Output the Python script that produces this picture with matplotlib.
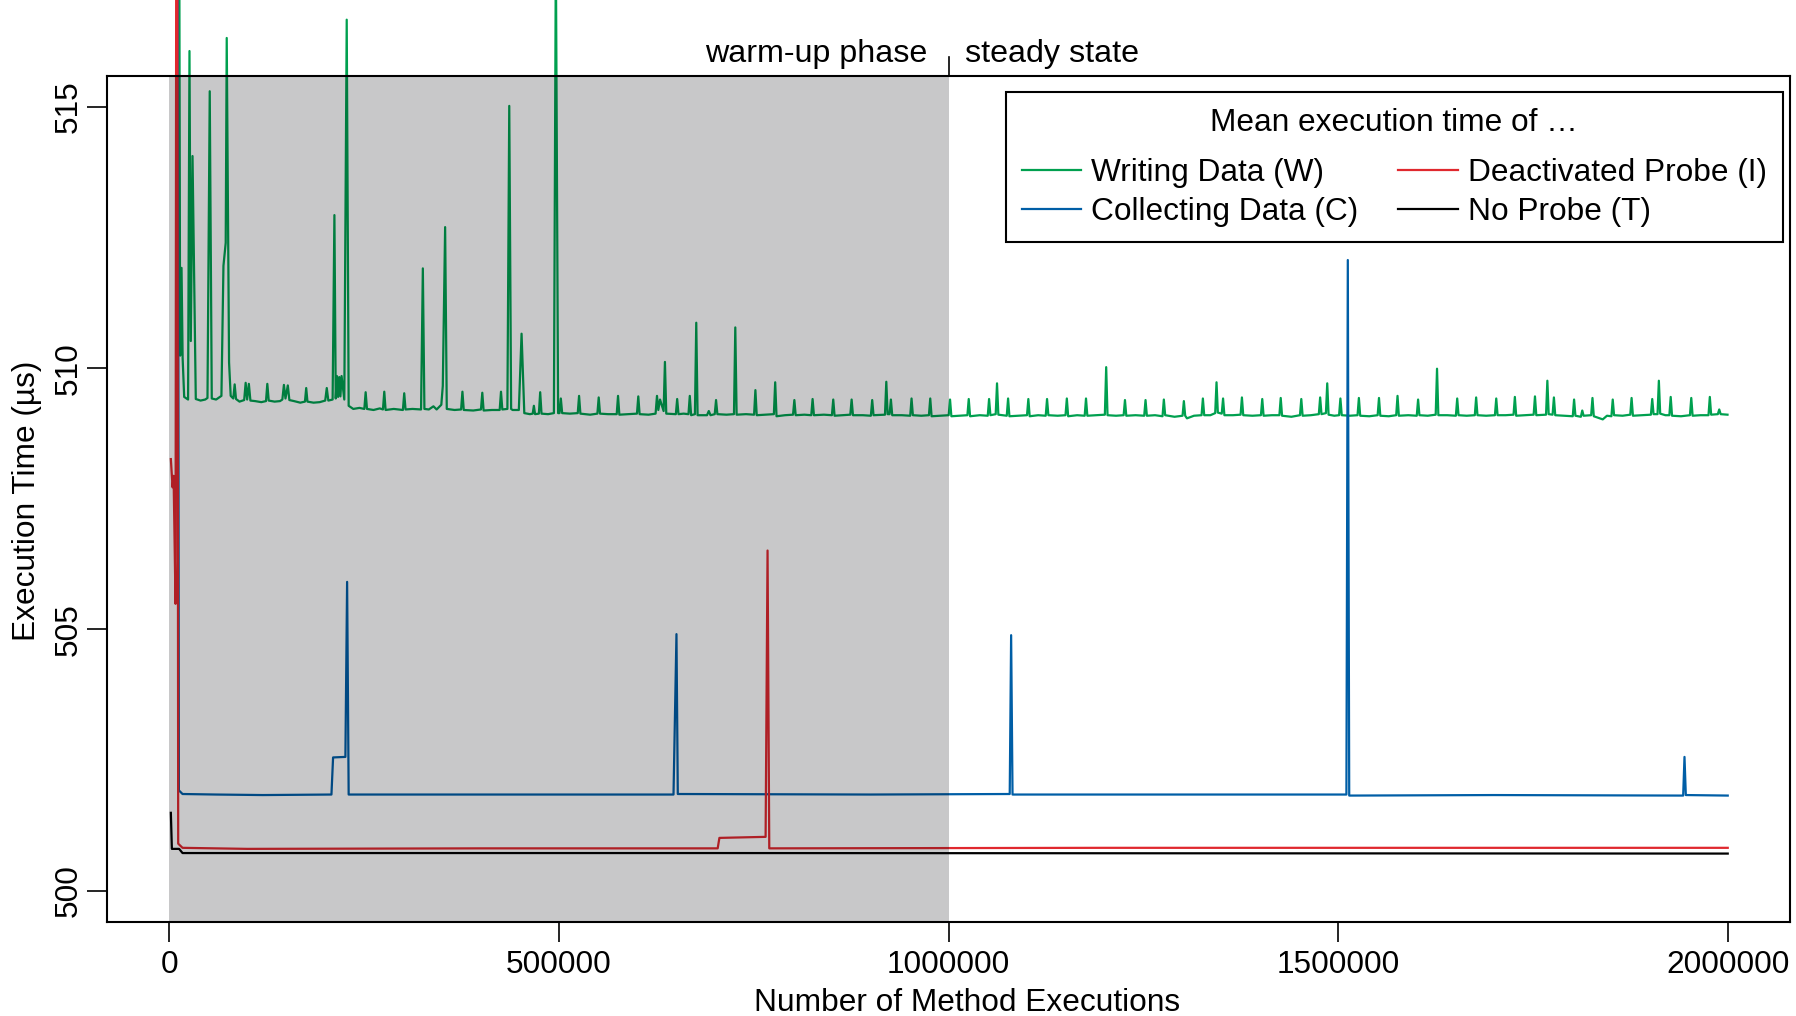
import matplotlib
matplotlib.use("Agg")
import matplotlib.pyplot as plt
from matplotlib.lines import Line2D

plt.rcParams["font.family"] = ["Liberation Sans", "DejaVu Sans"]

# (executions in thousands, mean execution time in µs)
writing_pts = [
    (10.5, 535.0), (13.8, 510.24), (15.6, 511.92), (17.0, 510.20), (19.0, 509.45),
    (24.0, 509.40), (25.8, 516.07), (27.5, 510.52), (29.7, 514.06), (33.9, 509.41),
    (40.0, 509.38), (46.0, 509.40), (48.9, 509.43), (51.8, 515.30), (54.4, 509.42),
    (60.0, 509.40), (66.8, 509.47), (69.4, 511.96), (72.3, 512.40), (73.6, 516.32),
    (76.6, 510.11), (78.7, 509.47), (82.0, 509.42), (83.8, 509.69), (85.5, 509.41),
    (90.0, 509.36), (96.0, 509.39), (97.9, 509.72), (99.8, 509.40), (102.0, 509.70),
    (104.0, 509.38), (110.0, 509.37), (118.0, 509.35), (124.0, 509.37), (125.7, 509.70),
    (127.5, 509.38), (135.0, 509.36), (142.0, 509.37), (145.0, 509.40), (147.0, 509.68),
    (149.0, 509.42), (152.0, 509.67), (154.0, 509.39), (160.0, 509.37), (168.0, 509.34),
    (174.0, 509.36), (175.6, 509.62), (177.2, 509.36), (185.0, 509.34), (193.0, 509.35),
    (200.0, 509.38), (202.0, 509.62), (204.0, 509.38), (209.5, 509.40), (211.8, 512.93),
    (213.5, 509.42), (215.0, 509.85), (216.5, 509.45), (218.0, 509.83), (219.5, 509.46),
    (221.0, 509.85), (224.5, 509.40), (227.6, 516.67), (230.1, 509.28), (236.0, 509.22),
    (244.0, 509.24), (250.2, 509.22), (251.9, 509.54), (253.6, 509.22), (262.0, 509.20),
    (270.0, 509.23), (274.1, 509.21), (275.8, 509.55), (277.5, 509.20), (288.0, 509.22),
    (299.7, 509.20), (301.4, 509.52), (303.1, 509.21), (312.0, 509.22), (323.0, 509.21),
    (325.3, 511.91), (327.3, 509.22), (333.0, 509.21), (338.9, 509.27), (343.0, 509.21),
    (349.0, 509.30), (350.9, 509.66), (353.9, 512.70), (356.0, 509.22), (366.0, 509.20),
    (374.4, 509.21), (376.1, 509.55), (377.8, 509.20), (390.0, 509.19), (399.9, 509.21),
    (401.6, 509.53), (403.3, 509.19), (414.0, 509.20), (423.9, 509.20), (425.6, 509.55),
    (427.3, 509.21), (433.8, 509.22), (436.2, 515.02), (438.6, 509.22), (440.5, 509.20),
    (448.5, 509.20), (452.0, 510.66), (455.5, 509.14), (462.7, 509.12), (466.3, 509.13),
    (467.8, 509.28), (469.3, 509.12), (474.2, 509.13), (475.9, 509.54), (477.6, 509.13),
    (486.0, 509.12), (493.5, 509.14), (496.0, 518.00), (498.9, 509.14), (500.7, 509.14),
    (502.4, 509.42), (504.1, 509.14), (514.0, 509.13), (524.1, 509.14), (525.8, 509.47),
    (527.5, 509.13), (540.0, 509.11), (549.3, 509.13), (551.0, 509.44), (552.7, 509.13),
    (563.0, 509.12), (574.1, 509.12), (575.8, 509.47), (577.5, 509.11), (590.0, 509.12),
    (600.1, 509.13), (601.8, 509.46), (603.5, 509.12), (615.0, 509.11), (624.0, 509.13),
    (625.8, 509.47), (627.5, 509.20), (629.7, 509.40), (634.3, 509.18), (636.0, 510.12),
    (637.7, 509.13), (650.0, 509.12), (651.7, 509.41), (653.4, 509.12), (660.0, 509.13),
    (666.2, 509.12), (667.9, 509.47), (669.6, 509.10), (674.5, 509.12), (676.2, 510.87),
    (677.9, 509.10), (690.0, 509.10), (692.3, 509.18), (694.5, 509.10), (699.9, 509.12),
    (701.6, 509.39), (703.3, 509.12), (715.0, 509.11), (724.6, 509.12), (726.3, 510.78),
    (728.0, 509.11), (740.0, 509.12), (750.4, 509.11), (752.1, 509.58), (753.8, 509.10),
    (765.0, 509.11), (775.8, 509.12), (777.5, 509.73), (779.2, 509.08), (790.0, 509.10),
    (800.4, 509.11), (802.1, 509.39), (803.8, 509.10), (815.0, 509.11), (823.8, 509.10),
    (825.5, 509.41), (827.2, 509.10), (840.0, 509.11), (850.3, 509.10), (852.0, 509.40),
    (853.7, 509.09), (865.0, 509.10), (873.9, 509.11), (875.6, 509.40), (877.3, 509.10),
    (890.0, 509.10), (900.3, 509.09), (902.0, 509.39), (903.7, 509.10), (918.4, 509.11),
    (920.1, 509.74), (921.8, 509.12), (924.3, 509.12), (926.0, 509.40), (927.7, 509.10),
    (940.0, 509.10), (950.8, 509.09), (952.5, 509.42), (954.2, 509.10), (965.0, 509.09),
    (974.8, 509.10), (976.5, 509.42), (978.2, 509.08), (990.0, 509.09), (1000.2, 509.10),
    (1001.9, 509.40), (1003.6, 509.08), (1015.0, 509.09), (1024.2, 509.10), (1025.9, 509.41),
    (1027.6, 509.08), (1040.0, 509.10), (1050.3, 509.09), (1052.0, 509.41), (1053.7, 509.10),
    (1060.5, 509.12), (1062.2, 509.71), (1063.9, 509.11), (1074.7, 509.09), (1076.4, 509.42),
    (1078.1, 509.08), (1090.0, 509.09), (1100.7, 509.10), (1102.4, 509.41), (1104.1, 509.08),
    (1115.0, 509.10), (1124.7, 509.09), (1126.4, 509.41), (1128.1, 509.10), (1140.0, 509.09),
    (1150.1, 509.10), (1151.8, 509.42), (1153.5, 509.08), (1165.0, 509.10), (1174.7, 509.09),
    (1176.4, 509.42), (1178.1, 509.09), (1190.0, 509.10), (1200.6, 509.11), (1202.3, 510.02),
    (1204.0, 509.10), (1215.0, 509.09), (1224.7, 509.10), (1226.4, 509.39), (1228.1, 509.09),
    (1240.0, 509.10), (1251.1, 509.09), (1252.8, 509.39), (1254.5, 509.09), (1265.0, 509.10),
    (1274.6, 509.08), (1276.3, 509.40), (1278.0, 509.10), (1290.0, 509.07), (1300.3, 509.09),
    (1302.0, 509.37), (1303.7, 509.09), (1306.0, 509.04), (1315.0, 509.09), (1324.7, 509.10),
    (1326.4, 509.42), (1328.1, 509.10), (1336.0, 509.10), (1342.2, 509.14), (1343.9, 509.73),
    (1345.6, 509.15), (1350.6, 509.13), (1352.3, 509.42), (1354.0, 509.10), (1365.0, 509.10),
    (1374.8, 509.11), (1376.5, 509.44), (1378.2, 509.10), (1390.0, 509.09), (1400.9, 509.10),
    (1402.6, 509.41), (1404.3, 509.09), (1415.0, 509.10), (1424.6, 509.10), (1426.3, 509.43),
    (1428.0, 509.09), (1440.0, 509.07), (1451.0, 509.10), (1452.7, 509.41), (1454.4, 509.09),
    (1465.0, 509.10), (1475.2, 509.12), (1476.9, 509.44), (1478.6, 509.12), (1484.3, 509.14),
    (1486.0, 509.71), (1487.7, 509.11), (1495.0, 509.09), (1501.2, 509.10), (1502.9, 509.42),
    (1504.6, 509.10), (1515.0, 509.09), (1524.9, 509.10), (1526.6, 509.43), (1528.3, 509.09),
    (1540.0, 509.08), (1550.7, 509.10), (1552.4, 509.43), (1554.1, 509.09), (1565.0, 509.08),
    (1574.5, 509.10), (1576.2, 509.47), (1577.9, 509.09), (1590.0, 509.10), (1600.9, 509.09),
    (1602.6, 509.40), (1604.3, 509.10), (1615.0, 509.09), (1625.2, 509.11), (1626.9, 509.99),
    (1628.6, 509.10), (1640.0, 509.10), (1651.1, 509.09), (1652.8, 509.42), (1654.5, 509.10),
    (1665.0, 509.09), (1675.4, 509.10), (1677.1, 509.44), (1678.8, 509.10), (1690.0, 509.09),
    (1701.2, 509.10), (1702.9, 509.42), (1704.6, 509.10), (1715.0, 509.10), (1725.1, 509.11),
    (1726.8, 509.45), (1728.5, 509.09), (1740.0, 509.10), (1750.9, 509.11), (1752.6, 509.46),
    (1754.3, 509.10), (1766.8, 509.11), (1768.5, 509.76), (1770.2, 509.12), (1775.2, 509.11),
    (1776.9, 509.44), (1778.6, 509.10), (1790.0, 509.09), (1801.1, 509.08), (1802.8, 509.40),
    (1804.5, 509.09), (1811.5, 509.07), (1813.3, 509.19), (1815.0, 509.09), (1824.7, 509.10),
    (1826.4, 509.43), (1828.1, 509.08), (1839.6, 509.02), (1845.0, 509.09), (1850.7, 509.08),
    (1852.4, 509.40), (1854.1, 509.10), (1865.0, 509.09), (1874.9, 509.11), (1876.6, 509.43),
    (1878.3, 509.09), (1890.0, 509.10), (1901.4, 509.11), (1903.1, 509.41), (1904.8, 509.12),
    (1909.9, 509.12), (1911.6, 509.76), (1913.3, 509.13), (1920.0, 509.10), (1925.1, 509.10),
    (1926.8, 509.45), (1928.5, 509.09), (1940.0, 509.08), (1951.5, 509.10), (1953.2, 509.43),
    (1954.9, 509.09), (1965.0, 509.10), (1975.3, 509.10), (1977.0, 509.45), (1978.7, 509.11),
    (1987.3, 509.12), (1989.1, 509.21), (1990.9, 509.12), (1999.7, 509.11),
]

collecting_pts = [
    (10.0, 530.0), (12.2, 501.92), (16.9, 501.85), (60.0, 501.84), (120.0, 501.83),
    (208.0, 501.84), (210.1, 502.55), (225.9, 502.56), (228.1, 505.91), (230.1, 501.84),
    (400.0, 501.84), (647.0, 501.84), (650.8, 504.91), (652.5, 501.85), (900.0, 501.84),
    (1078.5, 501.85), (1080.3, 504.89), (1082.1, 501.84), (1300.0, 501.84), (1510.6, 501.84),
    (1512.4, 512.07), (1514.2, 501.82), (1700.0, 501.83), (1942.8, 501.82), (1944.5, 502.56),
    (1946.2, 501.83), (2000.0, 501.82),
]

deactivated_pts = [
    (1.9, 508.26), (4.1, 507.72), (5.4, 507.94), (7.9, 505.49), (9.6, 530.0),
    (11.3, 500.90), (16.9, 500.82), (100.0, 500.80), (400.0, 500.81), (703.7, 500.81),
    (705.9, 501.01), (765.2, 501.03), (767.7, 506.51), (769.9, 500.81), (1200.0, 500.82),
    (2000.0, 500.82),
]

noprobe_pts = [
    (1.9, 501.49), (3.2, 500.80), (12.5, 500.80), (16.9, 500.72), (700.0, 500.72),
    (2000.0, 500.71),
]

series = [writing_pts, collecting_pts, deactivated_pts, noprobe_pts]
labels = ["Writing Data (W)", "Collecting Data (C)", "Deactivated Probe (I)", "No Probe (T)"]
colors = ["#00A04F", "#005EA6", "#E0282E", "black"]
xticks = [0, 500000, 1000000, 1500000, 2000000]
yticks = [500, 505, 510, 515]
warmup_end = 1000000

fig = plt.figure(figsize=(17.96, 10.16), dpi=100)
ax = fig.add_axes([0.0596, 0.0925, 0.9371, 0.8331])

for pts, c in zip(series, colors):
    k, us = zip(*pts)
    ax.plot([v * 1000 for v in k], us, color=c, lw=1.6, clip_on=False, zorder=2)

# warm-up region shaded on top of the lines
ax.axvspan(0, warmup_end, color=(0, 0, 0.02), alpha=0.215, lw=0, zorder=2.2)

ax.set_xlim(-80000, 2080000)
ax.set_ylim(499.4, 515.6)
ax.set_xticks(xticks)
ax.set_xticklabels([str(v) for v in xticks])
ax.set_yticks(yticks)
ax.set_yticklabels([str(v) for v in yticks])
ax.tick_params(length=14.4, width=1.2, labelsize=22.8, direction="out")
ax.tick_params(axis="x", pad=6)
ax.tick_params(axis="y", pad=2.5, labelrotation=90)
for t in ax.get_yticklabels():
    t.set_va("center")
for s in ax.spines.values():
    s.set_linewidth(1.5)

fig.text(967 / 1796, 1 - 1011 / 1016, "Number of Method Executions",
         ha="center", va="baseline", fontsize=22.8)
fig.text(27 / 1796, 0.507, "Execution Time (µs)", rotation=90,
         ha="center", va="center", fontsize=22.8)

ax.axvline(warmup_end, ymin=1, ymax=1.022, color="black", lw=1.2, clip_on=False)
ax.annotate("warm-up phase", xy=(warmup_end, 1), xycoords=("data", "axes fraction"),
            xytext=(-15.5, 9.8), textcoords="offset points",
            ha="right", va="baseline", fontsize=23.2)
ax.annotate("steady state", xy=(warmup_end, 1), xycoords=("data", "axes fraction"),
            xytext=(12, 9.8), textcoords="offset points",
            ha="left", va="baseline", fontsize=23.2)

handles = [Line2D([], [], color=c, lw=1.6) for c in colors]
leg = ax.legend(handles, labels, ncol=2, title="Mean execution time of \u2026",
                loc="upper left", bbox_to_anchor=(1006 / 1796, 1 - 92 / 1016),
                bbox_transform=fig.transFigure, borderaxespad=0,
                fontsize=22.8, title_fontsize=22.8, fancybox=False,
                edgecolor="black", framealpha=1, borderpad=0.5, labelspacing=0.26,
                handlelength=1.87, handletextpad=0.32, columnspacing=1.26)
leg._legend_box.sep = 14.8  # wider gap between title and entries
leg.get_frame().set_linewidth(1.5)
leg.set_zorder(5)

fig.savefig("out.png", dpi=100)
